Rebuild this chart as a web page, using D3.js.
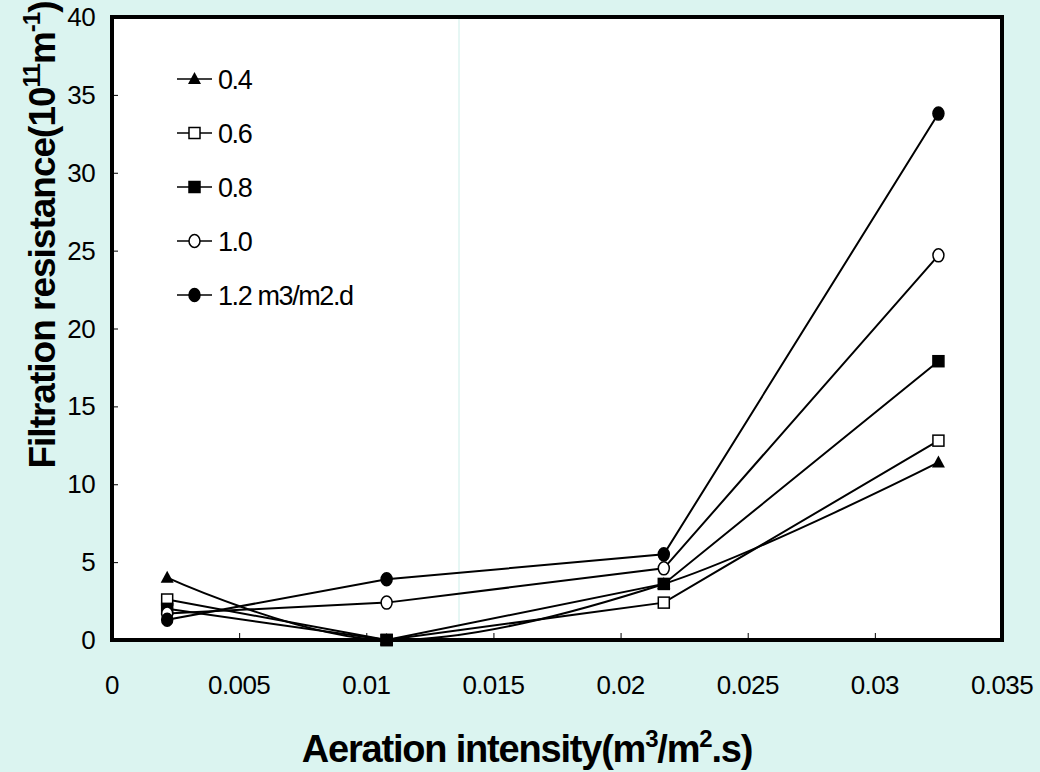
<!DOCTYPE html>
<html>
<head>
<meta charset="utf-8">
<script src="https://cdn.jsdelivr.net/npm/d3@7"></script>
<style>
  body { margin: 0; background: #dbf4f0; }
  svg { display: block; font-family: "Liberation Sans", Arial, sans-serif; }
</style>
</head>
<body>
<svg id="chart" width="1040" height="772"></svg>
<script>
// aeration intensity (m3/m2.s)
const X_VALUES = [0.00217, 0.0108, 0.0217, 0.0325];
const X_TICKS = [0, 0.005, 0.01, 0.015, 0.02, 0.025, 0.03, 0.035];
const Y_TICKS = [0, 5, 10, 15, 20, 25, 30, 35, 40];

// filtration resistance per flux (10^11 m^-1)
const SERIES_NAMES = ["0.4", "0.6", "0.8", "1.0", "1.2 m3/m2.d"];
const R_04 = [4.0, 0, 3.6, 11.4];
const R_06 = [2.6, 0, 2.4, 12.8];
const R_08 = [2.0, 0, 3.6, 17.9];
const R_10 = [1.7, 2.4, 4.6, 24.7];
const R_12 = [1.3, 3.9, 5.5, 33.8];

const SERIES = [R_04, R_06, R_08, R_10, R_12];
const SHAPES = ["triangle", "square-open", "square", "circle-open", "circle"];

var svg = d3.select("#chart");
var margin = { top: 17, left: 112, right: 38, bottom: 132 };
var W = 1040, H = 772;

var xScale = d3.scaleLinear().domain([0, 0.035]).range([margin.left, W - margin.right]);
var yScale = d3.scaleLinear().domain([0, 40]).range([H - margin.bottom, margin.top]);

svg.append("rect").attr("width", W).attr("height", H).attr("fill", "#dbf4f0");

// plot area
svg.append("rect")
  .attr("x", xScale(0)).attr("y", yScale(40))
  .attr("width", xScale(0.035) - xScale(0))
  .attr("height", yScale(0) - yScale(40))
  .attr("fill", "#ffffff");

// stray faint vertical line in the original
svg.append("line")
  .attr("x1", 459).attr("x2", 459)
  .attr("y1", yScale(40) + 2).attr("y2", yScale(0) - 2)
  .attr("stroke", "#cdeee9").attr("stroke-width", 1);

// axes, ticks inside
var xAxis = d3.axisTop(xScale).tickValues(X_TICKS).tickSize(7).tickFormat("");
var yAxis = d3.axisRight(yScale).tickValues(Y_TICKS).tickSize(6).tickFormat("");

svg.append("g").attr("transform", `translate(0,${yScale(0)})`).call(xAxis)
  .call((g) => g.select(".domain").remove())
  .selectAll("line").attr("stroke", "#000").attr("stroke-width", 1);
svg.append("g").attr("transform", `translate(${xScale(0)},0)`).call(yAxis)
  .call((g) => g.select(".domain").remove())
  .selectAll("line").attr("stroke", "#000").attr("stroke-width", 1);

// tick labels
svg.append("g").selectAll("text").data(X_TICKS).join("text")
  .attr("x", (d) => xScale(d)).attr("y", 694)
  .attr("text-anchor", "middle")
  .attr("font-size", 26).attr("letter-spacing", -0.6)
  .text((d) => d);
svg.append("g").selectAll("text").data(Y_TICKS).join("text")
  .attr("x", 95).attr("y", (d) => yScale(d) + 9)
  .attr("text-anchor", "end")
  .attr("font-size", 26).attr("letter-spacing", -0.6)
  .text((d) => d);

// frame
svg.append("rect")
  .attr("x", xScale(0)).attr("y", yScale(40))
  .attr("width", xScale(0.035) - xScale(0))
  .attr("height", yScale(0) - yScale(40))
  .attr("fill", "none").attr("stroke", "#000").attr("stroke-width", 4);

function drawMarker(g, shape, cx, cy) {
  if (shape === "triangle") {
    g.append("path")
      .attr("d", `M${cx},${cy - 7}L${cx + 6.5},${cy + 5}L${cx - 6.5},${cy + 5}Z`)
      .attr("fill", "#000");
  } else if (shape === "square" || shape === "square-open") {
    g.append("rect")
      .attr("x", cx - 5.5).attr("y", cy - 5.5).attr("width", 11).attr("height", 11)
      .attr("fill", shape === "square" ? "#000" : "#fff")
      .attr("stroke", "#000").attr("stroke-width", 1.5);
  } else {
    g.append("ellipse")
      .attr("cx", cx).attr("cy", cy).attr("rx", 5.5).attr("ry", 6.5)
      .attr("fill", shape === "circle" ? "#000" : "#fff")
      .attr("stroke", "#000").attr("stroke-width", 1.5);
  }
}

// series lines
var line = d3.line().x((d, i) => xScale(X_VALUES[i])).y((d) => yScale(d));
var smooth = d3.line().curve(d3.curveCatmullRom.alpha(0))
  .x((d, i) => xScale(X_VALUES[i])).y((d) => yScale(d));

SERIES.forEach((vals, s) => {
  svg.append("path")
    .attr("d", s === 0 ? smooth(vals) : line(vals))
    .attr("fill", "none").attr("stroke", "#000").attr("stroke-width", 2);
});
SERIES.forEach((vals, s) => {
  var g = svg.append("g");
  vals.forEach((v, i) => drawMarker(g, SHAPES[s], xScale(X_VALUES[i]), yScale(v)));
});

// legend
var legend = svg.append("g");
SERIES_NAMES.forEach((name, i) => {
  var y = 79 + i * 54;
  legend.append("line").attr("x1", 177).attr("x2", 212).attr("y1", y).attr("y2", y)
    .attr("stroke", "#000").attr("stroke-width", 1.5);
  drawMarker(legend, SHAPES[i], 194.5, y);
  legend.append("text").attr("x", 218).attr("y", y + 10)
    .attr("font-size", 27).attr("letter-spacing", -1.4)
    .text(name);
});

// axis titles
var xt = svg.append("text")
  .attr("x", 527).attr("y", 762)
  .attr("text-anchor", "middle")
  .attr("font-size", 38).attr("font-weight", "bold").attr("letter-spacing", -1.2);
xt.append("tspan").text("Aeration intensity(m");
xt.append("tspan").attr("font-size", 24).attr("dy", -15).text("3");
xt.append("tspan").attr("dy", 15).text("/m");
xt.append("tspan").attr("font-size", 24).attr("dy", -15).text("2");
xt.append("tspan").attr("dy", 15).text(".s)");

var yt = svg.append("text")
  .attr("transform", "translate(55,235) rotate(-90)")
  .attr("text-anchor", "middle")
  .attr("font-size", 37).attr("font-weight", "bold").attr("letter-spacing", -1);
yt.append("tspan").text("Filtration resistance(10");
yt.append("tspan").attr("font-size", 24).attr("dy", -15).text("11");
yt.append("tspan").attr("dy", 15).text("m");
yt.append("tspan").attr("font-size", 24).attr("dy", -15).text("-1");
yt.append("tspan").attr("dy", 15).text(")");
</script>
</body>
</html>
